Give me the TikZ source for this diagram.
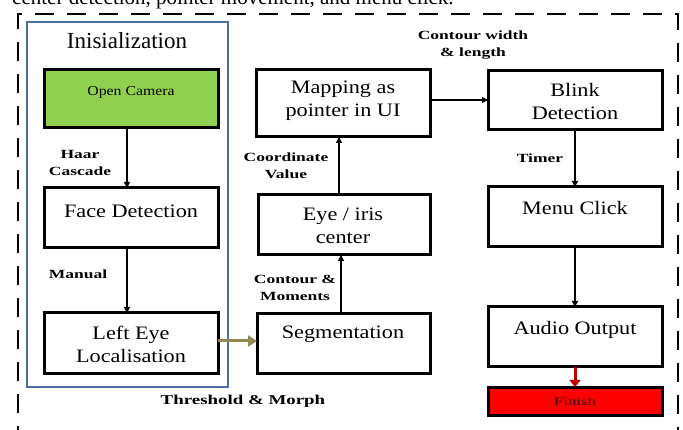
\documentclass[tikz,border=0pt]{standalone}
\usepackage{fontspec}
\setmainfont{Liberation Serif}
\newfontfamily\boxf[FakeStretch=1.17]{Liberation Serif}
\newfontfamily\labf[FakeStretch=1.4]{Liberation Serif}
\usetikzlibrary{arrows.meta}
\definecolor{ogreen}{RGB}{146,208,80}
\definecolor{oblue}{RGB}{79,110,160}
\definecolor{olive}{RGB}{148,137,84}
\definecolor{fred}{RGB}{255,0,0}
\definecolor{dred}{RGB}{192,0,0}
\definecolor{ftxt}{RGB}{60,0,0}
\tikzset{
  stepbox/.style={draw=black,line width=3pt,fill=white},
  boxtext/.style={font=\boxf\fontsize{19}{23}\selectfont,align=center,inner sep=0pt},
  lab/.style={font=\labf\bfseries\fontsize{12.5}{17}\selectfont,align=center,inner sep=0pt},
  conn/.style={line width=1.2pt,-{Triangle[length=6pt,width=6pt]}},
}
\begin{document}
\begin{tikzpicture}[x=1pt,y=-1pt]
\useasboundingbox (0,0) rectangle (683,430);
% cropped caption line
\node[anchor=base west,inner sep=0pt,font=\fontsize{21}{24}\selectfont] (cap) at (12,5) {center detection, pointer movement, and menu click.};
% dashed outer border
\draw[line width=2.8pt,dash pattern=on 19pt off 13pt] (18,445) -- (18,14) -- (678,14) -- (678,445);
% initialization frame
\draw[oblue,line width=1.5pt] (27,22) rectangle (228,387);
\node[font=\fontsize{23}{26}\selectfont,inner sep=0pt] (init) at (127,41) {Inisialization};
% boxes
\draw[stepbox,fill=ogreen] (44,70) rectangle (218,128);
\node (cam) at (131,99) {};
\node[font=\boxf\fontsize{13.5}{16}\selectfont,inner sep=0pt] (camt) at (131,92) {Open Camera};
\draw[stepbox] (44,188) rectangle (218,248);
\node[boxtext] (face) at (131,211) {Face Detection};
\draw[stepbox] (44,313) rectangle (218,374);
\node[boxtext] (eye) at (131,344) {Left Eye\\Localisation};
\draw[stepbox] (257,314) rectangle (430,374);
\node[boxtext] (seg) at (343,334) {Segmentation};
\draw[stepbox] (258,195) rectangle (430,255);
\node[boxtext] (iris) at (343,226) {Eye / iris\\center};
\draw[stepbox] (256,70) rectangle (430,137);
\node[boxtext] (map) at (343,101) {Mapping as\\pointer in UI};
\draw[stepbox] (488,71) rectangle (662,130);
\node[boxtext] (blink) at (575,102) {Blink\\Detection};
\draw[stepbox] (488,187) rectangle (662,247);
\node[boxtext] (menu) at (575,208) {Menu Click};
\draw[stepbox] (488,307) rectangle (662,367);
\node[boxtext] (audio) at (575,330) {Audio Output};
\draw[stepbox,fill=fred] (488,387) rectangle (662,415);
\node[font=\labf\fontsize{12}{14}\selectfont,text=ftxt,inner sep=0pt] (fin) at (575,401) {Finish};
% anchor coordinates
\coordinate (camB) at (127,128);
\coordinate (faceT) at (127,188);
\coordinate (faceB) at (127,248);
\coordinate (eyeT) at (127,313);
\coordinate (eyeR) at (218,341);
\coordinate (segL) at (257,341);
\coordinate (segT) at (341,314);
\coordinate (irisB) at (341,255);
\coordinate (irisT) at (339,195);
\coordinate (mapB) at (339,137);
\coordinate (mapR) at (430,100);
\coordinate (blinkL) at (488,100);
\coordinate (blinkB) at (575,130);
\coordinate (menuT) at (575,187);
\coordinate (menuB) at (575,247);
\coordinate (audioT) at (575,307);
\coordinate (audioB) at (575,367);
\coordinate (finT) at (575,387);
% connectors
\draw[conn] (camB) -- (faceT);
\draw[conn] (faceB) -- (eyeT);
\draw[line width=3pt,olive,-{Triangle[length=9pt,width=11pt]}] (eyeR) -- (segL);
\draw[conn] (segT) -- (irisB);
\draw[conn] (irisT) -- (mapB);
\draw[conn] (mapR) -- (blinkL);
\draw[conn] (blinkB) -- (menuT);
\draw[conn] (menuB) -- (audioT);
\draw[line width=3pt,dred,-{Triangle[length=7pt,width=11pt]}] (audioB) -- (finT);
% labels
\node[lab] (l1) at (80,163) {Haar\\Cascade};
\node[lab] (l2) at (78,274) {Manual};
\node[lab] (l3) at (295,288) {Contour \&\\Moments};
\node[lab] (l4) at (286,166) {Coordinate\\Value};
\node[lab] (l5) at (473,45) {Contour width\\\& length};
\node[lab] (l6) at (540,158) {Timer};
\node[lab,font=\labf\bfseries\fontsize{13.5}{17}\selectfont] (l7) at (243,401) {Threshold \& Morph};
\end{tikzpicture}
\end{document}
